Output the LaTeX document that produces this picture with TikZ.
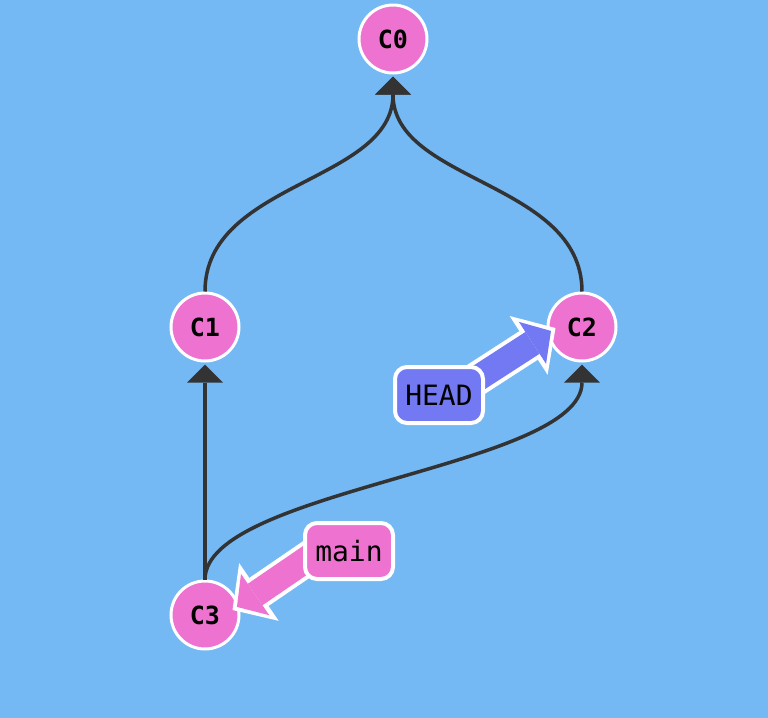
\documentclass[tikz,border=0pt]{standalone}
\usepackage{fontspec}
\setmonofont{DejaVu Sans Mono}
\usetikzlibrary{arrows.meta,positioning}
\definecolor{bgblue}{HTML}{74B8F4}
\definecolor{commitpink}{HTML}{EE72CF}
\definecolor{headblue}{HTML}{7379F2}
\definecolor{edgegray}{HTML}{333333}

\begin{document}
\begin{tikzpicture}[x=0.5pt,y=-0.5pt,node distance=144pt,on grid]
        \tikzstyle{commit}=[circle,draw=white,line width=1.5pt,fill=commitpink,minimum size=34pt,inner sep=0pt,font=\ttfamily\bfseries\fontsize{12.5pt}{14pt}\selectfont]
        \tikzstyle{ref}=[rectangle,rounded corners=6pt,draw=white,line width=2pt,minimum width=44pt,minimum height=28pt,inner sep=0pt,font=\ttfamily\fontsize{14pt}{16pt}\selectfont]
        \tikzstyle{edge}=[draw=edgegray,line width=1.75pt,-{Triangle[length=9pt,width=18pt,line width=0pt]},shorten >=1pt]
        \tikzstyle{pointer}=[line width=13pt,shorten >=2.7pt,-{Triangle[length=11pt,width=25pt,line width=0pt]},
            preaction={draw=white,line width=17pt,shorten >=0pt,-{Triangle[length=16pt,width=35pt,line width=0pt]}}]
        \fill[bgblue] (0,0) rectangle (768,718);
        % commits
        \node[commit] (c0) at (393,39) {C0};
        \node[commit,below left=144pt and 94pt of c0] (c1) {C1};
        \node[commit,below right=144pt and 94.5pt of c0] (c2) {C2};
        \node[commit,below=of c1] (c3) {C3};
        \draw[edge] (c1.north) .. controls +(0,-110) and +(0,108) .. (c0.south);
        \draw[edge] (c2.north) .. controls +(0,-110) and +(0,108) .. (c0.south);
        \draw[edge] (c3) -- (c1);
        \draw[edge] (c3.north) .. controls +(0,-90) and +(0,105) .. (c2.south);
        % branch pointers
        \coordinate[below left=34pt and 71.5pt of c2] (headpos);
        \coordinate[above right=32pt and 72pt of c3] (mainpos);
        \draw[pointer,draw=headblue] ([shift={(8pt,1pt)}]headpos) -- ([shift={(4.5pt,-0.5pt)}]c2.west);
        \draw[pointer,draw=commitpink] ([shift={(-9.25pt,4pt)}]mainpos) -- ([shift={(-4pt,2.5pt)}]c3.east);
        \node[ref,fill=headblue] (head) at (headpos) {HEAD};
        \node[ref,fill=commitpink] (main) at (mainpos) {main};
\end{tikzpicture}
\end{document}
